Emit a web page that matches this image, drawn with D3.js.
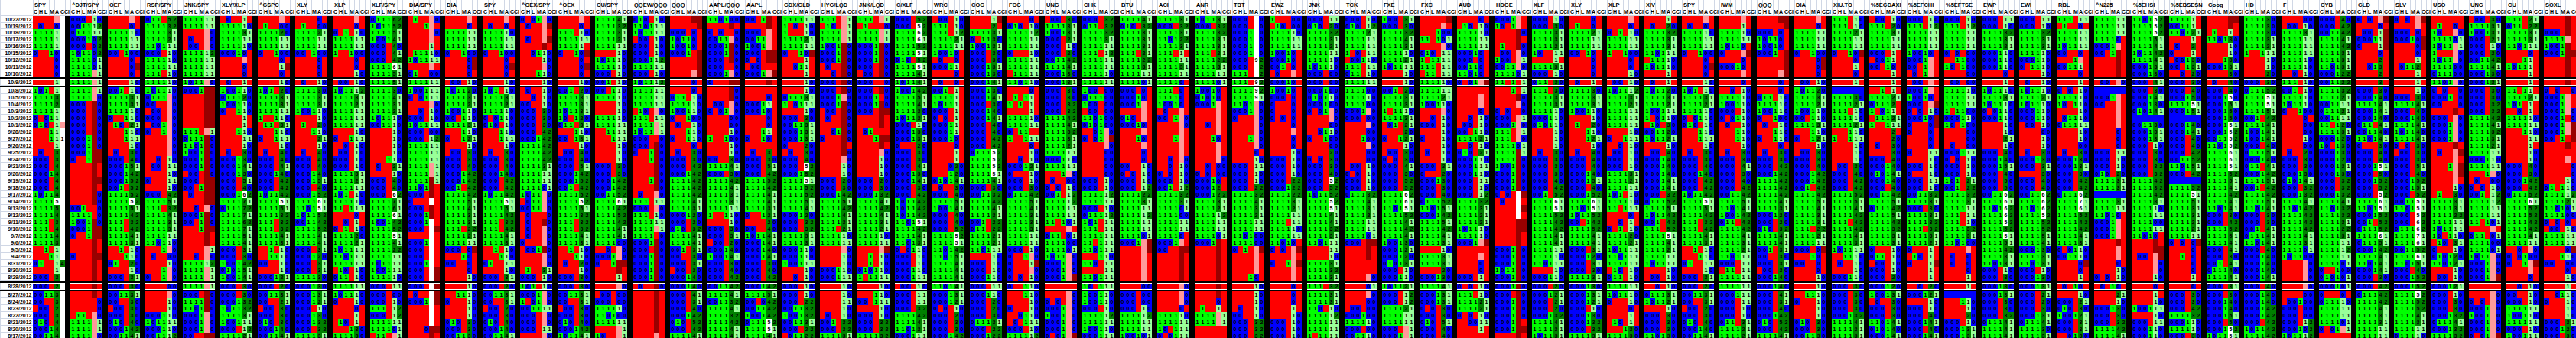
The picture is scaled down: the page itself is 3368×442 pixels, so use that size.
<!DOCTYPE html>
<html>
<head>
<meta charset="utf-8">
<script src="https://cdn.jsdelivr.net/npm/d3@7"></script>
<style>
  body { margin: 0; background: #fff; }
  svg { display: block; }
  text { font-family: "Liberation Sans", Arial, sans-serif; }
</style>
</head>
<body>
<svg id="chart" width="3368" height="442"></svg>
<script>
// row labels (trading days, newest first)
const dates = ["10/22/2012","10/19/2012","10/18/2012","10/17/2012","10/16/2012","10/15/2012","10/12/2012","10/11/2012","10/10/2012","10/9/2012","10/8/2012","10/5/2012","10/4/2012","10/3/2012","10/2/2012","10/1/2012","9/28/2012","9/27/2012","9/26/2012","9/25/2012","9/24/2012","9/21/2012","9/20/2012","9/19/2012","9/18/2012","9/17/2012","9/14/2012","9/13/2012","9/12/2012","9/11/2012","9/10/2012","9/7/2012","9/6/2012","9/5/2012","9/4/2012","8/31/2012","8/30/2012","8/29/2012","8/28/2012","8/27/2012","8/24/2012","8/23/2012","8/22/2012","8/21/2012","8/20/2012","8/17/2012"];
// rows framed with a thick black border
const framedRows = ["10/9/2012", "8/28/2012"];

const tickers = ["SPY","^DJT/SPY","OEF","RSP/SPY","JNK/SPY","XLY/XLP","^GSPC","XLY","XLP","XLF/SPY","DIA/SPY","DIA","SPY","^OEX/SPY","^OEX","CU/SPY","QQEW/QQQ","QQQ","AAPL/QQQ","AAPL","GDX/GLD","HYG/LQD","JNK/LQD","C/XLF","WRC","COG","FCG","UNG","CHK","BTU","ACI","ANR","TBT","EWZ","JNK","TCK","FXE","FXC","AUD","HDGE","XLF","XLY","XLP","XIV","SPY","IWM","QQQ","DIA","XIU.TO","%5EGDAXI","%5EFCHI","%5EFTSE","EWP","EWI","RBL","^N225","%5EHSI","%5EBSESN","Goog","HD","F","CYB","GLD","SLV","USO","UNG","CU","SOXL"];
const subCols = ["C", "H", "L", "M", "A", "CCI"];

// one string per ticker, one 6-char token per date (C H L M A CCI)
// r = blank red, p = blank pink, d = blank dark red, w = blank white, b = blank blue
// digits = value shown, A..J = value (0..9) shown on white
const cellsA = [
"rrrrpw r0rr0w 11111w 11111w 11111w 0rr10w rrrr0w rrrr0w rrrr0w rrrr1w 101r1w 11113w 11112w 11111w 0r011w 010r1p rrr11w rrr11B rrrr1w r0rr3w 000r3w 000r4w 00014w 000r4w 000r4w 10114w 1111Fw 11115w 11114w 111r3w 111r4w 11114w 11113w rr1r1w rrr11w 01rr14 rrrr1w 000r3w 000r2w 00113w 00rr3w r00r2w 000r3w 010r4w 00014w 00114w",
"000r10 001112 011111 000102 000r02 101102 111101 111101 1111p1 1111p1 1111p1 1111p0 000rd0 000rd0 000rd0 000rd0 000rd0 0001d0 0001d0 0001dd 0rr1dd rrrrdr rrrrdr rrrrdd rrrrdr rrrrd0 rrrrd0 001rr0 1111r0 1001d0 0001dd 0rr1dd rrrrdr rrrrdr 0rrrdd rrrrdr rrrrdr rrrrdr rrrrdr rrrrdr rrrrr0 rrrrr0 r11rp0 1111p1 1111p1 1111p0",
"rrrrpr rrrr0r 111110 111111 111111 00r100 rrrr0r rrrr0d rrrr0r rrrr10 001r10 111131 111131 111110 0rr110 r10r21 rrr110 rrr111 rrrr10 r0rr30 000r40 000151 000142 000152 001r52 111152 1111F2 111151 111142 111r32 111r42 111141 111131 rr1r10 rrr110 01rr20 rrrr10 000r31 000r30 001131 00rr30 r00r30 000r30 010r40 000142 001141",
"011r52 111132 111131 111121 110111 000r10 111110 111111 111r10 111110 101110 0111p0 00rrp0 r00rp0 000rp0 r001p0 0rr1p0 rrrrp0 rrrrp0 rrrrp0 rr0r10 r00r11 rrrr10 0rrr11 rrrr10 000r42 111151 111r32 111141 111131 111131 111111 110110 rrr1p0 r0rr00 rrrr10 rrr1p0 0rr1p0 rrrr00 rrrrp0 rrrr10 rrrr10 000110 101111 000110 001112",
"111111 111111 rrrrp0 r0rrp0 r00rp0 111112 111111 111111 111111 1011p0 0001dd rrrrdd rrrrdd rrrrdd rrrrdd rrrrdd 111rp1 0111d0 1101d0 1001d0 0001d0 0001d0 r00rd0 000rdd 00r1dd r0rrdd rrrrdd rr0rp0 0001d0 00r1d0 rrr1dd rrrrdr rrrrdr rrrrp1 rr0rp0 111112 1111p1 1111p1 1111p1 000rd0 1111d0 1101d0 0001p0 0001p0 0001p0 00rrdd",
"r0rr1r 111110 111131 111111 111110 00010r rrrrpr rrrr0r rrrr0r r0rr1r 100110 011120 100110 0rr110 rrrr1r rrrr1r rrr110 rrrr11 rrrr10 r0rr30 000130 000141 000130 000r51 000r40 0001G2 111171 011172 111171 111162 111171 111151 111141 000r31 000r30 100142 010151 100141 000r30 000r30 000132 101132 111131 100111 000r12 111121",
"rrrrpr r1rr00 111120 111111 111111 0rr100 rrrr0r rrrr1d rrrr0r rrrr10 101r20 111131 111131 111111 1rr110 r11r31 rrr110 0rr111 rrrr10 r0rr40 000r40 000r41 000140 000r42 000r42 101142 1111F1 111151 111132 111r32 111r32 111141 111131 rr1r10 rr1110 00rr10 rrrr10 000121 000r20 001131 00rr21 r00r30 000r30 010r30 000140 001141",
"rrrr0r r1rr00 111121 111111 111111 00r100 rrrr0r rrrr0r rrrr0r r0rr10 111130 111131 111131 100110 rrrr10 r1rr20 rrr110 rrrr21 rrrr10 r0rr40 000r40 000r40 000140 000151 000r40 000152 1111G1 1101F1 101152 001142 111152 111141 111141 000r31 000120 000r31 000r31 111130 000130 000131 000121 000r10 000130 000132 000r32 111131",
"rrrrpr rrrr0r 0r1r10 111111 111111 1rr100 rrrr0r rrrr0r rrrr10 r00r10 101112 111131 111121 111111 111111 111111 rrrr10 0rr111 rr0r10 r00r10 000r10 000r10 111131 111121 111111 101r10 111110 11r111 rrrr0r rr0r1r 0r1r10 111120 111121 101111 110111 111111 r10r10 011r10 111111 101110 0rrr10 rrrr0r rrrr1r r10r1r rrr130 111130",
"011162 101152 111151 100141 000r40 000r41 000r42 1111G1 111151 111151 111130 111141 111131 111121 101110 001110 rrrr10 rrrr10 rrrr10 rrrr10 rrr110 r0rr21 rrrr10 000r40 000r40 000rG2 111171 111161 1111G1 100142 111152 1111F1 111141 111122 111111 101111 100111 111110 000r11 000r00 000r10 111r12 000r12 111111 111101 r11rp1",
"r1rrp0 rrr1pr rrrrp0 rrrrpr rrrr1r r11110 101111 rrrrpr 01rr00 111111 100111 0r0111 rrrrp0 rr0r10 000r10 101111 000r00 000r12 111111 111111 111111 1111p1 1111p1 1111d1 1101dr 000rdr 0rrrwr 000rdr 0001dr 0001wr 000rwd rrrrwr 0001wr 000rwr 000rwr 0001wr 000rwd 000rwd 000rwd r0rrwd 0001wd rrrrwr rrrrwr rrrrwr rrr0dd rrrrdr",
"rrrrpr rrrr0r 111111 111111 111111 0rr100 rrrr0d rrrr0d rrrr0r r00r10 101120 111131 111121 100110 00r110 111131 rrr110 0rr121 rrrr10 r00r30 000r30 000r40 000142 000142 001r42 111142 111151 111141 111131 111131 111r22 111121 111111 000r0d rrr10r 00rr0r rrrr0r rrrr10 rrrr10 rr1110 0rrr10 rrrr10 rrrr10 010r30 000r30 001130",
"rrrrpr r0rr0r 111110 111111 111111 0rr100 rrrr0r rrrr0d rrrr0r rrrr10 101r10 111131 111121 111110 0r0110 010r10 rrr110 rrr111 rrrr10 r0rr30 000r30 000r40 000140 000r42 000r42 101142 1111F1 111151 111142 111r32 111r42 111141 111131 rr1r10 rrr110 01rr11 rrrr10 000r31 000r20 001131 00rr31 r00r20 000r30 010r40 000140 001141",
"0r01p0 r0rrpd rrrrpr r0rrpd rrrrdr rr0110 rrrr10 rrrrp0 rrr110 rrrr10 r0rr10 rr0r10 00rr10 000r30 000r30 000r30 000r42 000142 111142 111142 111142 111131 111111 111111 111101 1011p0 r011p0 0011p0 r0rrr0 r0rrd0 r0rrp0 r0rrp0 0rrrp0 r001d0 rrrrp0 rrrrp0 r1rr31 000r10 101r10 0001p0 1r01p0 001111 000rp0 000rp0 000r11 rrrrp0",
"rrrrpr rrrr0r 111r10 111111 11111r 0rr10d rrrr0r rrrr0d rrrr0r rrrr10 001r20 111131 111131 101131 10r120 011r31 rrr110 00r131 rrrr10 r00r40 000r40 000r51 000142 000152 001r42 111152 1111F2 111151 111132 111r32 111r32 111141 111131 rr1r10 rrr110 r0rr20 rrrr10 000r30 000r30 001131 00rr31 r00r30 000r30 010r40 000142 101141",
"111141 111132 111131 111121 111111 rrrr10 101110 111110 000r10 001r10 00r110 111110 rrrr10 rrrr10 111110 111111 rr1111 rrr111 rrrr10 rrrr10 rrrr10 000r30 000r30 000142 000142 001152 1111G1 111142 111152 111142 111141 111141 111100 rr0rp0 0001p0 0rr1dd rrrrdr rrrr1r rrrrp0 r00r00 000r00 111110 110100 111111 rrrrp1 10rrp1",
"010r10 110111 101111 r00r10 000r10 000r10 000112 111111 000r10 101112 111111 111111 111111 r10rp0 111r11 1111p1 1011p1 000rr0 000rd0 0rr1d0 rrr1d0 rrrrd0 rrrrd0 rrr1d0 rrrrd0 r0rrp0 111r11 000rp0 111r10 111111 1111p1 1111r0 0001d0 000rd0 0001d0 0001d0 0001d0 0001d0 r0rrd0 rrrrdr rrrrdr rrrrdr rrrrdr rrrrdr rrrrdr rrrrpr",
"rrrrdd rrrrrd 000r0r 10110r 10010r 0001rd rrrrrd rrrrrd rrrrpd rrrr0r rrrr0r 011r10 111110 100110 0rr100 r0rr10 rrr110 0rr110 rrrr0r r0rr30 000r30 000r42 000142 111142 111142 111142 111141 111131 000120 000r20 010r32 111141 111141 001r31 00rr30 000r31 r00r30 000140 000140 000r41 000r31 000r40 000142 010r52 000r42 111141",
"110100 rrrrdr 0r0rr0 0011p0 0001d0 0001d0 000rd0 000rr0 0001p0 0rrrdd rrrrd0 rrrrd0 r00rp0 0r01p0 rrrr00 rrrr00 rrrr10 1rr100 rrrr10 rrrr10 00rr30 111141 000r30 111142 111141 111131 111131 111111 1rr110 rrrr10 000r30 000r31 r00r20 000140 100141 000r30 000r40 000r42 001142 111141 001132 111141 111132 111142 111141 111141",
"00r1dr rrrrdr 000rpr 0011pr 1001pr 000rdd 0r0rdd r00rrr 0001pd rrrrdr rrrrrr rrrr0r 00011r 00010r rrrr0r rrrr0r rrr11r 0rr10r rrrrrr r0rr3r 000r30 000r51 000r42 111152 111142 111141 111141 111131 0rr121 rrrr20 00rr40 101141 000141 000140 000141 000r30 000r40 000r42 000142 111151 00r042 001142 100142 0111F2 1111F1 111141",
"111111 1r0r10 1rrr10 111121 111111 0rr10d rrrr1r rr011r rrrr1r rrrr10 rrrr10 011131 1r0111 rrrr10 000r30 001131 000131 000131 0rrr20 r0rr30 000r40 000rF2 000152 1111F1 111152 111152 111151 111141 000120 000r32 000r32 111131 111131 000110 000110 100111 rrrr10 rr0r10 000r10 000r10 000r22 001132 100132 001131 000r22 r01122",
"111rp1 r10rp1 1111p1 1111p1 1001d0 0001d0 0001d0 r0rrd0 rr0rd0 000rd0 000rd0 0001p0 0001d0 r00rd0 r0rrd0 rrrrd0 rr01d0 0rrrd0 rrrrdr rrrrd0 rrrrp0 rrrr10 rrrr10 000r20 000r30 000142 111151 111142 111141 111131 111r21 111110 111111 rrrrp0 rrrr10 rrrr10 000110 000111 rrrr10 rrrr10 rrrr11 rrrr10 r0rr10 001r32 000r32 111131",
"111rp1 r1rrr0 1111p1 1111p1 0001d0 0001d0 0001d0 000rd0 r00rd0 000rr0 000rd0 0001r0 0001d0 000rdd rrrrdr rrrrdr r01rrr rrr1dd rrrrdr rrrrp0 rrrr10 rrrr10 rrrr10 000r20 000r30 000132 111141 111142 111141 111131 111121 111110 111111 rrrrpd rr1r10 rr1r10 010110 1r1111 rrrr10 rrr110 00r111 rrrr10 000r10 000r32 000r32 111132"
];
const cellsB = [
"000r52 000rF2 1111G2 1111G1 111152 1111F1 010r52 1111F1 111141 101141 100142 111151 111141 111130 101131 000r10 000130 000131 0rrr20 000r30 000r30 000r41 000130 000141 000r30 000r42 101142 101142 101142 1101F1 111142 111141 110131 0r0110 000r10 000r10 000110 000111 r00r10 000r11 000r11 000r32 111142 111141 110131 000111",
"r00r10 111r10 111r12 111121 111111 10010r r0rr0r 00011r rrrr0r r0rr0r 001r1r 11111r 10111r 000r1r 0r0r1r 00011r 00011r 00010r rrrr0r rrrr1r rrrr1r rrr020 rrr120 010141 r0rr30 000r40 111151 100141 000r40 000r40 000r52 1111F2 1111F1 110142 110151 111141 111141 111141 110141 000131 000121 0r0r10 000r20 000r30 000r30 000142",
"rrrr1d rrrr2r 111131 0r1130 100131 000r30 000r30 000131 000130 000141 000130 000141 000r30 000140 000141 000r40 000r40 000r42 000r42 0111F2 1111F2 1111F2 1111F1 111141 000r30 001132 111142 111141 111131 001r22 011r22 111121 111121 110111 rrrr10 000r10 000r10 000110 000r11 000110 000r20 000r20 000r30 011131 000r22 000122",
"rrrr0r 010r10 111112 111111 111111 0rrr10 111111 111111 r11111 110110 rrrr0r r1r11r 1r1r1r rrrr1r 111110 111111 0r11rr 1rr111 rrrr0r rrrr10 rr0r10 000121 0rrr10 000r10 000r30 011142 111151 111141 111131 111131 111131 111111 111111 000r10 0rr1p0 0rrr1d 0rrrp0 0r0r10 0rr110 rrr110 rrrr10 0rrr10 rr0110 r0r111 000r10 111112",
"r00r30 111131 100131 000r21 000r10 000r20 001142 111141 000130 000131 000r30 000r30 000r32 000r32 111142 111141 111132 111131 111121 111111 000110 111111 rrr1p0 r0rr00 0r0r10 001r12 111112 111111 111111 11r101 rrrrpr 011r01 111100 111101 1011p0 0001p0 0001p0 0001pd rrrrrr rrrrp0 0r0rp0 0001p0 1001p0 0001p0 0001p0 0r01pd",
"000r32 011r32 111132 111131 111111 111r12 111111 111111 111110 111111 100r00 011100 100r00 r00r00 110100 010100 rr01p0 0r01pd rrrrp0 rrrr00 rrrr00 rrrr00 rrrr00 000r10 000r10 111112 111111 000r10 011112 101r11 111r11 111111 11r111 110111 rrr110 110r11 rrrr11 110111 10r111 100110 100110 000r10 111112 111111 100110 000111",
"111141 010r32 111131 111131 111131 111r21 111122 111131 111111 111101 000r0r 00010r 0001pr rrrrpr 010rpr 00010r rrrrpr rrr10r rrrrpr rrrr0r rrrr0r 00rr10 0r0r10 000r10 000r12 111122 111131 111111 111112 111111 111111 111101 0001pd rrrrpd rrrrpr rrrrpr rrrrpr rrrrpr rrrr00 000r00 000r00 000r10 111112 111111 111111 100101",
"111131 000r32 111131 110122 111131 111r1r 111111 111131 111111 11110r 111r0r 11110r 10010r r0rrpr 00r1p0 rrrrp0 rrrrpr rrr1pr rrrrpr rrrrpr rr0rp0 rr0r10 0r0r10 000r10 001r12 111132 111131 111101 111100 111111 111111 11110r 0001pr 00rrdd rrrrdr rrrrdr rrrrdr rrrrdr rrrrp0 rrrrp0 rrrrp0 rrrr0r 111110 111111 10r111 0r0111",
"101131 000r32 111132 111131 111131 111r21 111122 111131 111111 111101 10010r 01010r 0001pr rrrrpr rrrrpr rr0rpr rrrrpr rrr10r rrrrpr rrrrpr rrrrp0 rr0r00 0r0r00 00010r 00012r 000122 111131 111121 111112 111111 111111 111101 0001dr rrrrdr rrrrdr rrrrdr rrrrdr rrrrdr rrrrdr rrrrdr rrrr0r r1rr1r 1111p1 1111p1 rrrrrr rrrrrr",
"000rw0 000rw0 0001w0 0001w0 0001w0 0001w0 000rJ2 000rw2 111rw2 111rJ2 1111J2 1111J1 1101p0 0001p0 0rrrp0 rrrrp0 rrrrp0 rrr1p0 rrrrp0 rrrr0r rrrr10 000r11 000r10 000r10 000r22 111132 111141 111131 111121 111111 111111 110100 111100 0r1rpd rrrrpr rrrrpr rrrrpr rrr10r rrrr10 rrrr10 rrrr10 r0rr10 00rr10 000r32 000r32 000r32",
"1rrr00 r10r00 111110 111111 111111 10010r 00010r 001r0r r0rrpr 00010r 10010r 000r0r 0rrr0r 0rrr0r 0r0r0r rrrr0r rrrrpr rrrr0r rrrr0r rrrr10 000r10 000r10 000r10 000r22 000122 111122 111131 111121 111111 111r11 111110 111111 11010r 0r0rpd rrrrpr 0rr1pd rrrrpr rrrrpr rrrr0r rrrr0r rrrr0r rrrr1r rrrr10 000r10 000r10 000r10",
"000r11 010r20 111132 111131 111121 111111 111110 101110 000r00 000r00 000100 010110 000100 0r01p0 rrrrp0 rrrr00 rr0110 0rr100 rrrr00 rrrr20 0r0r30 000r30 000r40 000rF2 000r52 101152 1111F2 1111F1 111141 111141 111132 111131 110111 rrrr11 rrrr10 111131 111132 111131 111r32 111131 111131 110r10 111112 111111 111111 1r1111",
"000r10 010r12 111121 111111 111111 1r0r11 r00110 111r11 011r10 111111 111100 111110 111100 0001p0 000r00 rrrrp0 rrrr00 rrr100 rrrrp0 rrrr00 rrrr00 r00r10 0r0r10 000r10 000r10 011132 111141 111131 111121 111111 111111 111101 000rdd rrrrdr rrrrdr rrrrrr rrrrrr rrrrp0 rrrr01 rrrrp0 rrrr00 r00r00 000100 111110 000r00 001110",
"100r31 000r30 111132 111141 111131 111110 111121 101111 rrrr10 rrrr10 001r20 111131 111131 1r1110 111131 r01r21 rrrr20 0rr121 rrrr10 r00r30 0r0r30 000r41 000r30 000r52 000r52 1111G2 1111G1 1101F1 111152 111141 111142 111141 100130 000121 000120 010131 000r10 000110 101121 000r12 000r12 111121 111111 111111 000rp1 0001p1",
"rrrrrd rrrrpr rrr100 11r101 rrrrp0 010r11 1r1111 111r11 r11r11 111110 111111 111121 100110 rrrrp0 rr0r10 000r10 rrrr10 0rrr10 rrrr10 r0rr10 rrrr10 000r31 0rrr20 000130 000r30 000r40 011152 110151 000142 111151 111142 111141 111131 rrrr10 111131 111131 rrrr20 000130 111141 000131 000131 0r0r30 000r30 010r51 000r40 000r40",
"rrrr0r r10r10 111110 111111 111111 00010r 000r0r 00110r 11010r 0r01pd rrrrrr rrrrpr rrrrpr rrrr0r rr0r10 r00r10 00r110 111121 rr0r10 010r21 000110 000111 000110 000r11 000r10 000r12 111132 111131 111121 111121 101110 111110 0001pd rrrrrr rrrrpr rrrr0r rrrr0r 000r1r 0r0r10 111r10 111121 111121 0r0r10 rr0011 rrrr1r rrrrrr",
"0001pr 10r1pr rrrrd0 rrrrdr r1rrd0 r00rp0 100rp1 0011p0 111101 11r1r1 rrr1r1 rrrrd0 rrrrp0 0r0rr0 000rp1 0001p0 111rp1 111rp0 111101 1111d1 1111d0 1001d0 0001d0 0001d0 0001d0 0r0rwd r0rrwr rrrrwd rrrrwr rrrrdd rrrrdd rrrrdr rrrrdr 0001d0 0001d0 0001d0 1011d0 0001d0 0001d0 000rd0 0001d0 0001d0 0001d0 0001dr 0001dd rrrrdr",
"000r10 000r30 111131 111131 111121 10rr11 rrrr1r 111131 000r10 011r30 111r30 111131 111131 111110 000110 010110 rrrr10 rrrr10 rrrr10 r0rr30 000r30 000r30 000r30 000r40 000r42 001r52 1111G1 1111F1 111152 111142 111142 111141 111141 111111 111110 110111 rrrr10 000110 000r20 000121 000r21 000r20 000132 111141 111131 101131",
"rrrr0r r1rr0r 111121 111111 111111 00r10r rrrr0r rrrr0r rrrr0r r0rr1r 111130 111131 111131 100110 rrrr10 r1rr20 rrr110 rrr121 rrrr10 r0rr40 000r40 000r40 000140 000151 000r40 000152 1111G1 1101F1 101152 00r142 111152 111141 111141 000r31 000120 000r31 000r30 111131 000130 000131 000121 000r10 000130 000132 000r32 111131",
"rrrrpr rrrr0r 0r1r10 111111 111111 1rr100 rrrr0r rrrr0r rrrr10 r00r10 101112 111131 111121 111111 111111 111111 rrrr10 0rr111 rr0r10 r00r10 000r10 000r10 111131 111121 111111 101r10 111110 11r111 rrrr0r rr0r1r 0r1r10 111120 111121 101111 110111 111111 r10r10 011r10 111111 101110 0rrr10 rrrr0r rrrr1r r10r1r rrr130 111130",
"rrrr1r r0rr20 111132 111131 111131 110111 r11110 101110 rrrr1r r0rr1r 101120 111131 111121 100111 1r0110 r10r30 001120 101121 rrrr10 r00r40 000140 000140 000140 000141 000141 000r32 011152 111151 101142 001r42 111r52 1111F1 111141 111121 111111 101111 rrrr10 r00r10 rr0r10 011131 101121 rrrr10 000r30 000r30 000r30 110130",
"rrrrpr r0rr0r 111110 111111 111111 0rr100 rrrr0r rrrr0d rrrr0r rrrr10 101r10 111131 111121 111110 0r0110 010r10 rrr110 rrr111 rrrr10 r0rr30 000r30 000r40 000140 000r42 000r42 101142 1111F1 111151 111142 111r32 111r42 111141 111131 rr1r10 rrr110 01rr11 rrrr10 000r31 000r20 001131 00rr31 r00r20 000r30 010r40 000140 001141",
"rrrrpr rrrr1r 111110 111111 10110r 0rrrpd rrrr0r 00010r rrrrpr rrrr0r rr0r10 111110 100110 000r10 0r0110 r0rr10 rrr110 rrr110 rrrr10 r0rr30 000r30 000r41 000r30 000r40 000r42 001142 111151 110141 100142 011r42 111142 111141 111131 111121 110111 000r11 r11r11 111111 111111 000111 000r11 000r10 000r10 011r31 111121 111121"
];
const cellsC = [
"rrrrdd rrrrrd 000r0r 10110r 10010r 0001rd rrrrrd rrrrrd rrrrpd rrrr0r rrrr0r 011r10 111110 100110 0rr100 r0rr10 rrr110 0rr110 rrrr0r r0rr30 000r30 000r42 000142 111142 111142 111142 111141 111131 000120 000r20 010r32 111141 111141 001r31 00rr30 000r31 r00r30 000140 000140 000r41 000r31 000r40 000142 010r52 000r42 111141",
"rrrrpr rrrr0r 111111 111111 111111 0rr100 rrrr0d rrrr0d rrrr0r r00r10 101120 111131 111121 100110 00r110 111131 rrr110 0rr121 rrrr10 r00r30 000r30 000r40 000142 000142 001r42 111142 111151 111141 111131 111131 111r22 111121 111111 000r0d rrr10r 00rr0r rrrr0r rrrr10 rrrr10 rr1110 0rrr10 rrrr10 rrrr10 010r30 000r30 001130",
"111r10 111r10 111121 111111 111111 0rr10d rrrr0r rrrr1r rrrr0r rrrr1r bbbbbb 111130 111121 111r10 111110 111121 rrr110 1rr111 rrrr10 rrrr10 rrrr10 r00r30 000r40 000r42 000r42 111152 111151 111141 111142 111r42 111142 111141 111131 101111 rr1110 r0rr10 rrrr10 000110 000r30 000r30 000r30 000r30 000132 111141 111131 111131",
"r00r10 111r20 111131 111111 111111 000r1r r0011r 00r10r rrrr1r rrrr1r rr1r1r 111121 01112r 1r011r r11121 1rr111 rrrr2r rrrr20 r0rr30 rrrr30 000r40 000140 010141 000140 000r40 001142 111151 011142 111151 111142 111132 111131 111131 0rrr10 011r10 r00r10 000r10 000r20 000120 100131 r0rr30 000r30 000r30 110141 010140 000141",
"000r10 111r12 111111 111111 111111 10010r 0001pr 00r1pr r0r1pr r00rpr 0001pr 10010r 000rpd 0r0r10 00010d 0rrr0d 0rrr0r rrrr0r rrrr0r 0rrr11 rrrr10 000r10 0rrr10 000r11 000r10 001132 111131 000r30 111131 111132 111r32 111131 111121 0rrr1r r10r1r 0rrr1d rrrr1r rrrr1r rr0r20 000121 rrrr10 000r10 000r40 000141 000r40 000141",
"000r10 111r12 111111 111111 111111 0r0r00 rr1100 10r100 rrrr00 r00r00 111110 111111 111111 1r1100 000110 10r100 rrrr00 rrrr00 r0rr00 000111 0r0r10 000r10 000r10 101r21 001r22 111132 111131 111111 111r11 111r10 111132 111131 110100 rrrrpr r0rr0r r0rr0r rrrr0r rrrr1r rrrr1r bbbbbb rrr110 rrrr10 rrrr20 000r10 000131 000131",
"000r11 000r10 111132 111131 111121 000110 000110 000110 rrrr0r rrrr1r 101110 111131 101110 0r0110 000110 rrrr10 rrrr10 rrrr21 rrrr10 000r40 000140 000151 000r40 000r50 000r50 0011G2 1111G1 1101G2 1111G2 1111F2 111152 1111F1 111151 111142 111131 110131 000r10 000r30 000130 000131 000r30 000r30 000r32 011141 111141 111141",
"000r11 000r10 111132 111131 111131 111110 000110 0r1110 rrrr10 r0rr10 101110 111121 101110 000110 000110 r00r10 rrrr00 rrrr10 rrrr10 r0rr30 000130 000r31 rrrr30 000r40 000r40 0011G2 1111G2 1101G2 1111F2 111152 111152 111151 111141 000130 111131 110131 000r10 000130 000131 000r21 000r20 000r30 000131 011141 111130 111131",
"111r11 r1rr0r 111111 111111 101111 00rr0r rrr1pr 00111r rrrr0r rrrr1r 0r0r10 111110 10r110 rrrr10 r01110 011111 rrrr10 rrrr10 rrrr00 r0rr30 000130 000131 000r30 000r42 000r42 0111G2 1111H1 1111G1 111152 111142 111142 111141 111131 0r0110 001110 rrrr0d rrrr0r rrrr1r r0r10r rrrr10 000r21 010r30 100121 000r31 000r31 rr0130",
"111111 111111 111111 11110r 0001pr 00r1dr rrrrdr rrrrdr rrrrdr r00rp0 bbbbbb 0001pr 00rrpr rrrrpr rrrrpr rrrrpr rrrr0r rrrr0r rrrr0r 000r11 000r10 000r10 010r20 111131 111131 bbbbbb 111131 111111 11010r 0001pr 0001pr 0001pr rrrrdr rrrrpr rrrrpr rrrr0r rrrr10 0r0r10 r0r10r rrrr21 rrrr10 000130 000r30 000r32 111142 111141",
"1101F2 1111F2 1111F2 111151 111141 101142 111141 000131 000130 000r41 000r30 000141 000130 010141 bbbbbb 001130 000131 000131 000r10 000r30 000r30 000r32 000r32 111142 111132 111142 111131 111110 111111 111100 111111 11010r rrrrdr rrrrdd r00rpd rrrrp0 rrrrp0 rrrr10 rrrr0r rrrr1r rrrr10 100111 rrrr10 000r11 000110 000110",
"11111r 00111r 110121 rrrr1r r0rr2r 0rrr1r r00130 00r131 rr0r20 000r30 000r40 000150 1111F1 000151 bbbbbb 000140 000141 000r40 000r40 000r42 001152 110151 000r42 bbbbbb 111152 1111F1 111151 111131 111131 111121 111121 111111 0r0r0d rrrr0r rr1r0r rrrr0r rrrr0r rrrr1r rrrr0r 000r30 000r30 000r42 111132 000110 111110 000r30",
"rrrrdd rrrrdr r1rr1r 110130 rrrr10 rrrr10 rrr130 000131 rrrr30 r0rr40 000r40 0001F0 000151 000150 000150 0001F1 0001F2 0011F2 1101F2 1111G1 1111G1 1111F1 111152 111151 111141 111142 111141 110141 000r30 000r42 111152 111151 111141 000r41 000r30 001r41 011140 111141 000r31 000r30 000140 000140 000151 000r50 0001F2 1011F1",
"111130 111130 111130 111131 111121 1rr111 rrrr10 rrrr10 rrrr20 000r30 011152 1111F1 1111F1 111151 001r42 111141 100141 100141 000r40 011151 000140 011r41 000142 111151 001r42 111142 111151 110141 000r30 000r30 001r41 011141 110141 000r40 000140 000140 000140 000141 000r40 000140 000140 000142 000142 000r42 101142 111142",
"rrrr00 r00r10 111131 111111 111111 111111 111110 111110 rr0r10 111r10 001r10 111110 101110 0rr100 rrrr0r rrrr00 rrrr00 rrrr10 rrrr00 r0rr20 000r30 000r30 000130 010141 000r32 000132 111141 110142 111142 111142 111142 111141 111131 111101 101100 rrrrp0 rrrrp0 rrrrp0 rrrrp0 rrrr00 r00100 000r00 000r00 000r12 000102 101112",
"000r40 000r42 001142 111141 111142 111131 111131 110131 000122 001122 111132 111121 001111 011121 001111 11r120 111131 000120 10r130 000130 000120 000131 000130 000r32 000r32 000132 111141 110132 111132 111131 111122 111131 111111 111112 111111 111101 0rr100 010101 000101 0rrr0r 011110 111111 111111 111101 0r01p1 rrrrrr",
"0r0rpd rrrr0r r00r1d 00011d 0rrr1d rrrr0r rrrr2r rr013r rrrr2r rrrr3r 000r30 000140 111141 000141 000140 011r41 001140 110141 0rrr30 000r40 000r40 0001F1 000r50 000152 000r52 000rF2 1111G1 1101F1 000152 001r52 011152 1111G1 011151 000142 111141 110141 000141 000r30 000r42 011142 111142 111141 111131 111131 111111 111111",
"0r0rpd rrrrpr 000r0r 00010d rrrr0d rrrr0r rrrr1r r0112r rrrr1r rrrr1r rrrr10 000r30 111141 000r40 000140 111141 101140 111141 0r0r30 r00r30 000r30 000r51 000r40 000152 000151 000r52 0011F1 1101F1 000rF2 000rG2 0111G2 1111H1 1111G1 001152 1111G1 110151 000r40 000152 000152 1111F2 111152 111152 111141 111131 111111 011110",
"rrrrrr r1rr0r 10rrp0 111101 1011p1 1rrrp0 1011p0 111100 011100 1101p0 0r0rr0 0001r0 00rrr0 rrrrdr 000rp0 0001p0 0001p0 0001p0 rrrrdr r0rrpd rrrrpr rrr1pd rrrrpd rrrrpr rrrr10 r1rr30 111131 111131 111122 111111 101111 10r110 r10r31 0rrr10 010120 110121 rrrr10 r00r10 000121 000r10 000r30 000r30 000132 011141 000132 111132",
"r00r30 111131 100131 000r21 000r10 000r20 001142 111141 000130 000131 000r30 000r30 000r32 000r32 111142 111141 111132 111131 111121 111111 000110 111111 rrr1p0 r0rr00 0r0r10 001r12 111112 111111 111111 11r101 rrrrpr 011r01 111100 111101 1011p0 0001p0 0001p0 0001pd rrrrrr rrrrp0 0r0rp0 0001p0 1001p0 0001p0 0001p0 0r01pd",
"111r21 011r22 111131 111131 110111 rrrr0r rrr11r 10111r rrrr1r rrrr1r 11r11r 111121 101r1r rr0r1r 111110 111111 rrr110 rrrr11 rrrr1r rrrr10 rrrr10 000r40 000r30 000142 000r42 011152 1111G1 111152 111152 111142 111142 111141 111111 rr0rp0 0r0100 0rr1pd rrrrpr rrrr0r rr0r10 00rr10 000r10 111111 100110 111111 000r10 100111",
"rrrrdr rrrrdr 000rdr 1111pr 1001dr 0001dd rrrrdr rrrrdr rrrrdr rrrrdr 0r0rr0 0001pr 0001pr 0001p0 0001r0 0001pd 0001pd 00r1rd rrrrdr rrrrrr rrrrpr rrrrr0 rrrrr0 rrrr10 01r110 111112 111121 110101 111100 0r0r0r r00r10 111111 111111 rrrr0d rrr110 00rr00 rrrr0r rrrr10 rrrr1r rr0110 0rrr10 rrrr10 rrrr10 000r31 000120 000r30"
];

const cellStrings = cellsA.concat(cellsB, cellsC);

// ---------- layout ----------
const W = 3368, H = 442;
const labelW = 43, groupW = 49;
const red = "#ff0000", green = "#00ff00", blue = "#0000ff",
      lightGreen = "#99ff99", darkGreen = "#008000",
      pink = "#ff9999", darkRed = "#990000", grid = "#d0d7e5";

const svg = d3.select("#chart");

const xGroup = d3.scaleBand()
    .domain(d3.range(tickers.length))
    .range([labelW, labelW + tickers.length * groupW]);
const xSub = d3.scaleBand()
    .domain(subCols.concat(["sep"]))
    .range([0, groupW]);

// row position in "row units"; the framed rows add a thin black band above and below
const frameIdx = framedRows.map(d => dates.indexOf(d));
const sepU = 0.25;
function rowUnit(i) {
    let u = i;
    frameIdx.forEach(f => { if (i >= f) u += sepU; if (i > f) u += sepU; });
    return u;
}
const yRow = d3.scaleLinear()
    .domain([0, rowUnit(10), rowUnit(dates.length - 1) + 1])
    .range([20.7, 113.8, 444.5]);

const dataTop = yRow(0);

// flatten cells
const cells = [];
cellStrings.forEach((s, g) => {
    const toks = s.trim().split(/\s+/);
    dates.forEach((d, i) => {
        const t = toks[i] || "rrrrrr";
        subCols.forEach((c, k) => cells.push({g: g, row: i, col: c, k: k, code: t[k] || "r"}));
    });
});

function fillOf(d) {
    const c = d.code;
    if (c === "r") return red;
    if (c === "p") return pink;
    if (c === "d") return darkRed;
    if (c === "w") return "#ffffff";
    if (c === "b" || c === "0") return blue;
    if (c === "1") return d.k < 4 ? green : lightGreen;
    if (c >= "2" && c <= "9") return darkGreen;
    return "#ffffff"; // A..J
}
function textOf(c) {
    if (c >= "0" && c <= "9") return c;
    if (c >= "A" && c <= "J") return String(c.charCodeAt(0) - 65);
    return "";
}

svg.append("rect").attr("width", W).attr("height", H).attr("fill", "#fff");

// ---------- spreadsheet gridlines in header and label column ----------
const gridG = svg.append("g").attr("shape-rendering", "crispEdges")
    .attr("stroke", grid).attr("stroke-width", 1);
const colEdges = d3.range(0, tickers.length * 7 + 1).map(k => labelW + k * 7);
gridG.selectAll("line.v").data([0].concat(colEdges)).enter().append("line")
    .attr("x1", d => d + 0.5).attr("x2", d => d + 0.5)
    .attr("y1", 0).attr("y2", dataTop);
gridG.selectAll("line.h").data([0, 11, dataTop]).enter().append("line")
    .attr("x1", 0).attr("x2", W)
    .attr("y1", d => Math.round(d) - 0.5).attr("y2", d => Math.round(d) - 0.5);
gridG.selectAll("line.r").data(dates).enter().append("line")
    .attr("x1", 0).attr("x2", labelW)
    .attr("y1", (d, i) => Math.round(yRow(rowUnit(i) + 1)) - 0.5)
    .attr("y2", (d, i) => Math.round(yRow(rowUnit(i) + 1)) - 0.5);
gridG.append("line").attr("x1", 0.5).attr("x2", 0.5).attr("y1", 0).attr("y2", H);

// ---------- header ----------
svg.append("g").selectAll("text").data(tickers).enter().append("text")
    .attr("x", (d, i) => xGroup(i) + 2)
    .attr("y", 9)
    .attr("font-size", 7.5).attr("font-weight", "bold")
    .attr("fill", "#000")
    .text(d => d);

const subHead = [];
tickers.forEach((t, g) => subCols.forEach(c => subHead.push({g: g, c: c})));
svg.append("g").selectAll("text").data(subHead).enter().append("text")
    .attr("x", d => xGroup(d.g) + xSub(d.c) + 1)
    .attr("y", 18.3)
    .attr("font-size", 7).attr("font-weight", "bold")
    .attr("fill", "#000")
    .text(d => d.c);

// ---------- data cells ----------
const body = svg.append("g").attr("shape-rendering", "crispEdges");

function cellY(i) {
    const y0 = yRow(rowUnit(i)), y1 = yRow(rowUnit(i) + 1);
    return frameIdx.includes(i) ? [y0 + 0.9, y1 - 0.9] : [y0, y1];
}

body.selectAll("rect.cell").data(cells).enter().append("rect")
    .attr("x", d => xGroup(d.g) + xSub(d.col))
    .attr("y", d => cellY(d.row)[0])
    .attr("width", xSub.bandwidth() + 0.3)
    .attr("height", d => cellY(d.row)[1] - cellY(d.row)[0] + 0.3)
    .attr("fill", fillOf);

// black spacer column after each ticker
body.selectAll("rect.sep").data(tickers).enter().append("rect")
    .attr("x", (d, i) => xGroup(i) + xSub("sep"))
    .attr("y", dataTop)
    .attr("width", xSub.bandwidth())
    .attr("height", H - dataTop)
    .attr("fill", "#000");

// thick black borders around the framed rows
const bands = [];
frameIdx.forEach(f => {
    bands.push([rowUnit(f) - sepU, rowUnit(f)]);
    bands.push([rowUnit(f) + 1, rowUnit(f) + 1 + sepU]);
});
body.selectAll("rect.band").data(bands).enter().append("rect")
    .attr("x", 0).attr("width", W)
    .attr("y", d => yRow(d[0]))
    .attr("height", d => yRow(d[1]) - yRow(d[0]))
    .attr("fill", "#000");

// cell values
svg.append("g").selectAll("text").data(cells.filter(d => textOf(d.code) !== "")).enter().append("text")
    .attr("x", d => xGroup(d.g) + xSub(d.col) + xSub.bandwidth() / 2)
    .attr("y", d => (cellY(d.row)[0] + cellY(d.row)[1]) / 2 + 2.5)
    .attr("text-anchor", "middle")
    .attr("font-size", 7).attr("font-weight", "bold")
    .attr("fill", "#000")
    .text(d => textOf(d.code));

// ---------- date labels ----------
svg.append("g").selectAll("text").data(dates).enter().append("text")
    .attr("x", labelW - 1.5)
    .attr("y", (d, i) => (yRow(rowUnit(i)) + yRow(rowUnit(i) + 1)) / 2 + 2.5)
    .attr("text-anchor", "end")
    .attr("font-size", 7).attr("font-weight", "bold")
    .attr("fill", "#000")
    .text(d => d);
</script>
</body>
</html>
